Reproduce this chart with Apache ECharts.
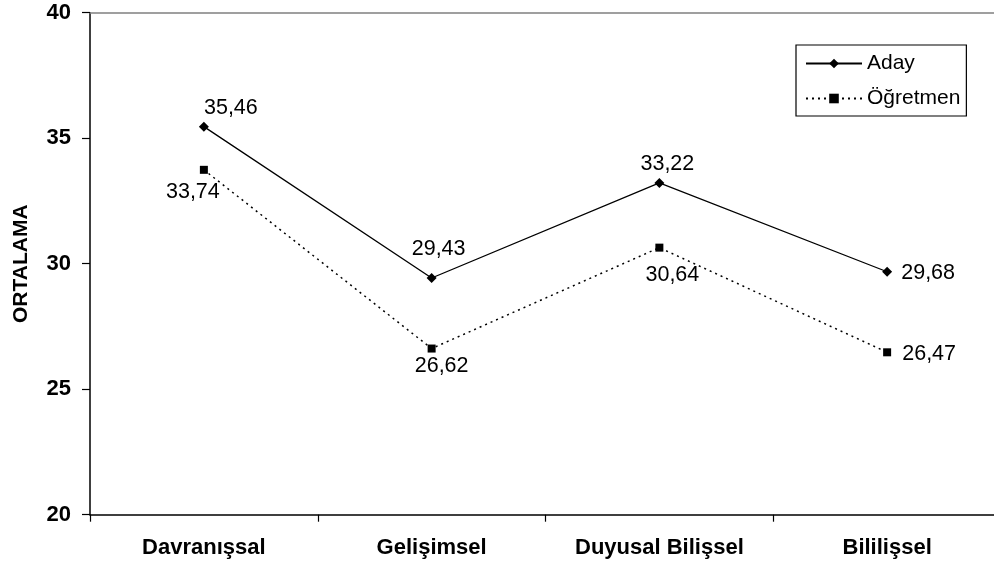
<!DOCTYPE html>
<html>
<head>
<meta charset="utf-8">
<script src="https://cdn.jsdelivr.net/npm/echarts@6/dist/echarts.min.js"></script>
<style>html,body{margin:0;padding:0;background:#fff}#c{width:994px;height:564px}</style>
</head>
<body>
<div id="c"></div>
<script>
const categories = ['Davranışsal', 'Gelişimsel', 'Duyusal Bilişsel', 'Bililişsel'];
const adayValues = [35.46, 29.43, 33.22, 29.68];
const ogretmenValues = [33.74, 26.62, 30.64, 26.47];
const seriesNames = ['Aday', 'Öğretmen'];
const yTicks = { min: 20, max: 40, interval: 5 };

const FONT = "'Liberation Sans', Arial, sans-serif";
const adayOffsets = [[27, -19], [7, -29], [8, -19], [41, 1]];
const ogrOffsets = [[-11, 22], [10, 18], [13, 27], [42, 2]];
const fmt = v => v.toFixed(2).replace('.', ',');

function withLabels(vals, offs) {
  return vals.map((v, i) => ({
    value: v,
    label: { show: true, position: 'inside', offset: offs[i], align: 'center', verticalAlign: 'middle',
      formatter: fmt(v), color: '#000', fontSize: 21.5, fontFamily: FONT }
  }));
}

const chart = echarts.init(document.getElementById('c'), null, { renderer: 'canvas' });
chart.setOption({
  animation: false,
  backgroundColor: '#fff',
  grid: { left: 90, top: 12.7, width: 911, height: 502, containLabel: false, outerBoundsMode: 'none' },
  legend: {
    orient: 'vertical', left: 796, top: 45,
    data: seriesNames,
    borderColor: '#000', borderWidth: 1.2, borderRadius: 0,
    padding: [8, 6, 7, 9], itemWidth: 56, itemHeight: 12, itemGap: 14,
    textStyle: { fontSize: 21, fontFamily: FONT, color: '#000' }
  },
  xAxis: [{
    type: 'category', data: categories, boundaryGap: true,
    axisLine: { lineStyle: { color: '#000', width: 1.5 } },
    axisTick: { show: true, length: 7, alignWithLabel: false, lineStyle: { color: '#000', width: 1.2 } },
    axisLabel: { fontSize: 22, fontWeight: 'bold', fontFamily: FONT, color: '#000', margin: 22 },
    splitLine: { show: false }
  }, {
    type: 'category', data: categories, position: 'top',
    axisLine: { lineStyle: { color: '#808080', width: 1.5 } },
    axisTick: { show: false }, axisLabel: { show: false }, splitLine: { show: false }
  }],
  yAxis: {
    type: 'value', min: yTicks.min, max: yTicks.max, interval: yTicks.interval,
    name: 'ORTALAMA', nameLocation: 'middle', nameGap: 58, nameRotate: 90,
    nameTextStyle: { fontSize: 21, fontWeight: 'bold', fontFamily: FONT, color: '#000' },
    axisLine: { show: true, lineStyle: { color: '#000', width: 1.5 } },
    axisTick: { show: true, inside: false, length: 8, lineStyle: { color: '#000', width: 1.2 } },
    axisLabel: { fontSize: 22, fontWeight: 'bold', fontFamily: FONT, color: '#000', margin: 19 },
    splitLine: { show: false }
  },
  series: [{
    name: seriesNames[0], type: 'line', data: withLabels(adayValues, adayOffsets),
    symbol: 'diamond', symbolSize: 10,
    lineStyle: { color: '#000', width: 1.3 }, itemStyle: { color: '#000' }
  }, {
    name: seriesNames[1], type: 'line', data: withLabels(ogretmenValues, ogrOffsets),
    symbol: 'rect', symbolSize: 8,
    lineStyle: { color: '#000', width: 1.5, type: [2, 4] }, itemStyle: { color: '#000' }
  }]
});
</script>
</body>
</html>
